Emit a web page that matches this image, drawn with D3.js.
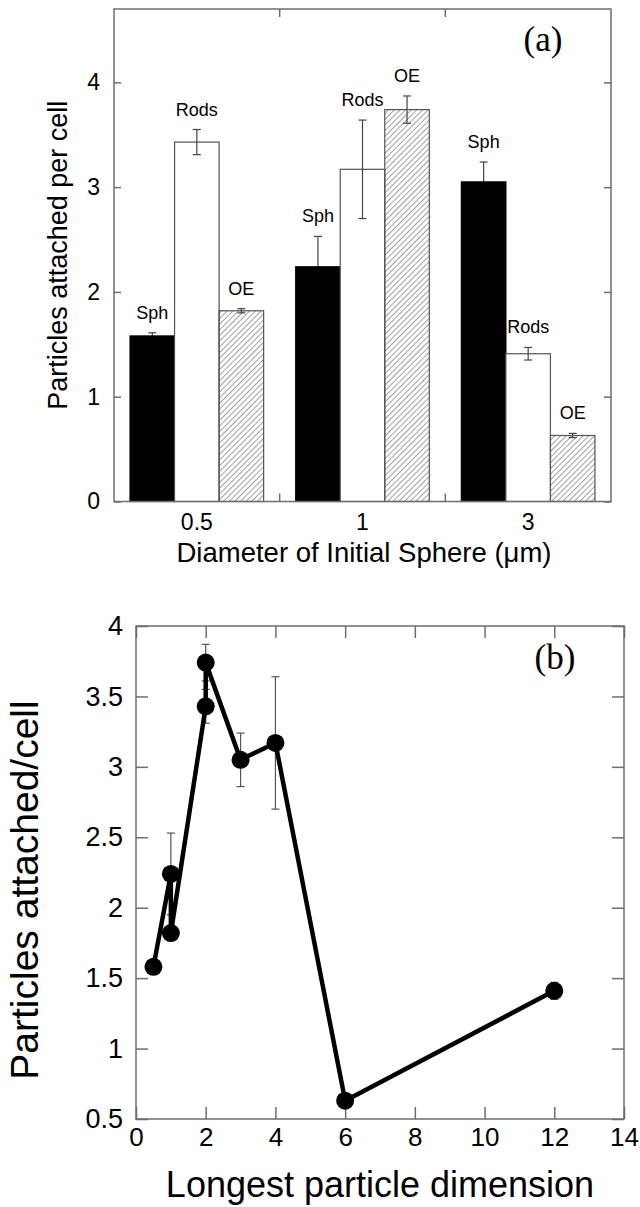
<!DOCTYPE html>
<html>
<head>
<meta charset="utf-8">
<script src="https://cdn.jsdelivr.net/npm/d3@7/dist/d3.min.js"></script>
<style>
  body { margin: 0; background: #fff; }
  svg text { font-family: "Liberation Sans", Arial, sans-serif; fill: #000; }
  .frame { fill: none; stroke: #6e6e6e; stroke-width: 1.5; }
  .tick line { stroke: #6e6e6e; stroke-width: 1.5; }
</style>
</head>
<body>
<svg width="640" height="1207"></svg>
<script>

// panel (a) data
var diameters = ["0.5", "1", "3"];
var shapes = ["Sph", "Rods", "OE"];
var sphValues = [1.58, 2.24, 3.05];
var sphErr = [0.03, 0.29, 0.19];
var rodsValues = [3.43, 3.17, 1.41];
var rodsErr = [0.12, 0.47, 0.06];
var oeValues = [1.82, 3.74, 0.63];
var oeErr = [0.02, 0.13, 0.02];
var aTicks = [0, 1, 2, 3, 4];

// panel (b) data
var longestDim = [0.5, 1, 1, 2, 2, 3, 4, 6, 12];
var attached = [1.58, 2.24, 1.82, 3.43, 3.74, 3.05, 3.17, 0.63, 1.41];
var attachedErr = [0.03, 0.29, 0.02, 0.12, 0.13, 0.19, 0.47, 0.02, 0.06];
var bXTicks = [0, 2, 4, 6, 8, 10, 12, 14];
var bYTicks = [0.5, 1, 1.5, 2, 2.5, 3, 3.5, 4];

var svg = d3.select("svg");

var defs = svg.append("defs");
defs.append("pattern")
    .attr("id", "hatch")
    .attr("patternUnits", "userSpaceOnUse")
    .attr("width", 4).attr("height", 4)
    .attr("patternTransform", "rotate(45)")
  .append("line")
    .attr("x1", 0).attr("y1", 0).attr("x2", 0).attr("y2", 4)
    .attr("stroke", "#444").attr("stroke-width", 1);

// ---------- panel (a) ----------
var a = {left: 114, right: 611, top: 9, bottom: 501.5};

var x0 = d3.scaleBand().domain(diameters).range([a.left, a.right]);
var x1 = d3.scaleBand().domain(shapes).range([0, x0.bandwidth()]).paddingOuter(0.36);
var ya = d3.scaleLinear().domain([0, 4.7]).range([a.bottom, a.top]);

var series = {
  Sph: {values: sphValues, err: sphErr, fill: "#000"},
  Rods: {values: rodsValues, err: rodsErr, fill: "#fff"},
  OE: {values: oeValues, err: oeErr, fill: "url(#hatch)"}
};

var bars = [];
diameters.forEach(function(d, i) {
  shapes.forEach(function(s) {
    bars.push({cat: d, shape: s, value: series[s].values[i], err: series[s].err[i], fill: series[s].fill});
  });
});

function barMid(d) { return x0(d.cat) + x1(d.shape) + x1.bandwidth() / 2; }

function errorBars(g, data) {
  var eb = g.selectAll(null).data(data).enter().append("g")
      .attr("stroke", "#444").attr("stroke-width", 1.2);
  eb.append("line")
      .attr("x1", barMid).attr("x2", barMid)
      .attr("y1", function(d) { return ya(d.value + d.err); })
      .attr("y2", function(d) { return ya(d.value - d.err); });
  [1, -1].forEach(function(sg) {
    eb.append("line")
        .attr("x1", function(d) { return barMid(d) - 4; })
        .attr("x2", function(d) { return barMid(d) + 4; })
        .attr("y1", function(d) { return ya(d.value + sg * d.err); })
        .attr("y2", function(d) { return ya(d.value + sg * d.err); });
  });
}

var ga = svg.append("g");

// solid bars hide the lower half of their error bars
errorBars(ga, bars.filter(function(d) { return d.shape == "Sph"; }));

ga.selectAll("rect.bar")
    .data(bars)
  .enter().append("rect")
    .attr("class", "bar")
    .attr("x", function(d) { return x0(d.cat) + x1(d.shape); })
    .attr("y", function(d) { return ya(d.value); })
    .attr("width", x1.bandwidth())
    .attr("height", function(d) { return ya(0) - ya(d.value); })
    .attr("fill", function(d) { return d.fill; })
    .attr("stroke", function(d) { return d.shape == "Sph" ? "#000" : "#555"; })
    .attr("stroke-width", 1.2);

errorBars(ga, bars.filter(function(d) { return d.shape != "Sph"; }));

ga.selectAll("text.blabel")
    .data(bars)
  .enter().append("text")
    .attr("class", "blabel")
    .attr("x", barMid)
    .attr("y", function(d) { return ya(d.value + d.err) - 14; })
    .attr("text-anchor", "middle")
    .style("font-size", "18px")
    .text(function(d) { return d.shape; });

// axes (a)
ga.append("g")
    .attr("transform", "translate(" + a.left + ",0)")
    .call(d3.axisLeft(ya).tickValues(aTicks).tickSizeInner(-7).tickSizeOuter(0).tickPadding(14).tickFormat(d3.format("d")))
    .call(function(g) { g.select(".domain").remove(); })
    .selectAll("text").style("font-size", "23px");

ga.append("g")
    .attr("transform", "translate(" + a.right + ",0)")
    .call(d3.axisRight(ya).tickValues(aTicks).tickSizeInner(-7).tickSizeOuter(0).tickFormat(""))
    .call(function(g) { g.select(".domain").remove(); });

ga.append("g")
    .attr("transform", "translate(0," + a.bottom + ")")
    .call(d3.axisBottom(x0).tickSize(0).tickPadding(12))
    .call(function(g) { g.select(".domain").remove(); })
    .selectAll("text").style("font-size", "23px");

// category boundary ticks, bottom and top
var bounds = diameters.slice(1).map(function(d) { return x0(d); });
ga.selectAll("line.bnd")
    .data(bounds.map(function(b) { return [b, a.bottom, a.bottom - 8]; })
      .concat(bounds.map(function(b) { return [b, a.top, a.top + 8]; })))
  .enter().append("line")
    .attr("x1", function(d) { return d[0]; }).attr("x2", function(d) { return d[0]; })
    .attr("y1", function(d) { return d[1]; }).attr("y2", function(d) { return d[2]; })
    .attr("stroke", "#6e6e6e").attr("stroke-width", 1.5);

ga.append("rect").attr("class", "frame")
    .attr("x", a.left).attr("y", a.top)
    .attr("width", a.right - a.left).attr("height", a.bottom - a.top);

ga.append("text")
    .attr("transform", "translate(67," + (a.top + a.bottom) / 2 + ") rotate(-90)")
    .attr("text-anchor", "middle")
    .style("font-size", "27px")
    .text("Particles attached per cell");

ga.append("text")
    .attr("x", 364).attr("y", 562)
    .attr("text-anchor", "middle")
    .style("font-size", "27.5px")
    .text("Diameter of Initial Sphere (\u03bcm)");

ga.append("text")
    .attr("x", 543).attr("y", 51)
    .attr("text-anchor", "middle")
    .style("font-family", "'Liberation Serif', 'Times New Roman', serif")
    .style("font-size", "35px")
    .text("(a)");

// ---------- panel (b) ----------
var b = {left: 136, right: 624, top: 626, bottom: 1119};

var xb = d3.scaleLinear().domain([0, 14]).range([b.left, b.right]);
var yb = d3.scaleLinear().domain([0.5, 4]).range([b.bottom, b.top]);

var pts = longestDim.map(function(d, i) { return {x: d, y: attached[i], err: attachedErr[i]}; });

var gb = svg.append("g");

gb.append("g")
    .attr("transform", "translate(" + b.left + ",0)")
    .call(d3.axisLeft(yb).tickValues(bYTicks).tickSizeInner(-12).tickSizeOuter(0).tickPadding(13).tickFormat(d3.format("")))
    .call(function(g) { g.select(".domain").remove(); })
    .selectAll("text").style("font-size", "27px");

gb.append("g")
    .attr("transform", "translate(" + b.right + ",0)")
    .call(d3.axisRight(yb).tickValues(bYTicks).tickSizeInner(-12).tickSizeOuter(0).tickFormat(""))
    .call(function(g) { g.select(".domain").remove(); });

gb.append("g")
    .attr("transform", "translate(0," + b.bottom + ")")
    .call(d3.axisBottom(xb).tickValues(bXTicks).tickSizeInner(-12).tickSizeOuter(0).tickPadding(9).tickFormat(d3.format("d")))
    .call(function(g) { g.select(".domain").remove(); })
    .selectAll("text").style("font-size", "26px");

gb.append("g")
    .attr("transform", "translate(0," + b.top + ")")
    .call(d3.axisTop(xb).tickValues(bXTicks).tickSizeInner(-12).tickSizeOuter(0).tickFormat(""))
    .call(function(g) { g.select(".domain").remove(); });

gb.append("rect").attr("class", "frame")
    .attr("x", b.left).attr("y", b.top)
    .attr("width", b.right - b.left).attr("height", b.bottom - b.top);

// error bars
var ebb = gb.selectAll("g.errb").data(pts).enter().append("g")
    .attr("stroke", "#555").attr("stroke-width", 1.2);
ebb.append("line")
    .attr("x1", function(d) { return xb(d.x); }).attr("x2", function(d) { return xb(d.x); })
    .attr("y1", function(d) { return yb(d.y + d.err); })
    .attr("y2", function(d) { return yb(d.y - d.err); });
[1, -1].forEach(function(sg) {
  ebb.append("line")
      .attr("x1", function(d) { return xb(d.x) - 4; }).attr("x2", function(d) { return xb(d.x) + 4; })
      .attr("y1", function(d) { return yb(d.y + sg * d.err); })
      .attr("y2", function(d) { return yb(d.y + sg * d.err); });
});

var line = d3.line()
    .x(function(d) { return xb(d.x); })
    .y(function(d) { return yb(d.y); });

gb.append("path")
    .datum(pts)
    .attr("d", line)
    .attr("fill", "none")
    .attr("stroke", "#000")
    .attr("stroke-width", 4.5)
    .attr("stroke-linejoin", "round");

gb.selectAll("circle")
    .data(pts)
  .enter().append("circle")
    .attr("cx", function(d) { return xb(d.x); })
    .attr("cy", function(d) { return yb(d.y); })
    .attr("r", 9)
    .attr("fill", "#000");

gb.append("text")
    .attr("transform", "translate(38," + 890 + ") rotate(-90)")
    .attr("text-anchor", "middle")
    .style("font-size", "39px")
    .text("Particles attached/cell");

gb.append("text")
    .attr("x", 380).attr("y", 1197)
    .attr("text-anchor", "middle")
    .style("font-size", "36px")
    .text("Longest particle dimension");

gb.append("text")
    .attr("x", 555).attr("y", 669)
    .attr("text-anchor", "middle")
    .style("font-family", "'Liberation Serif', 'Times New Roman', serif")
    .style("font-size", "35px")
    .text("(b)");

</script>
</body>
</html>
